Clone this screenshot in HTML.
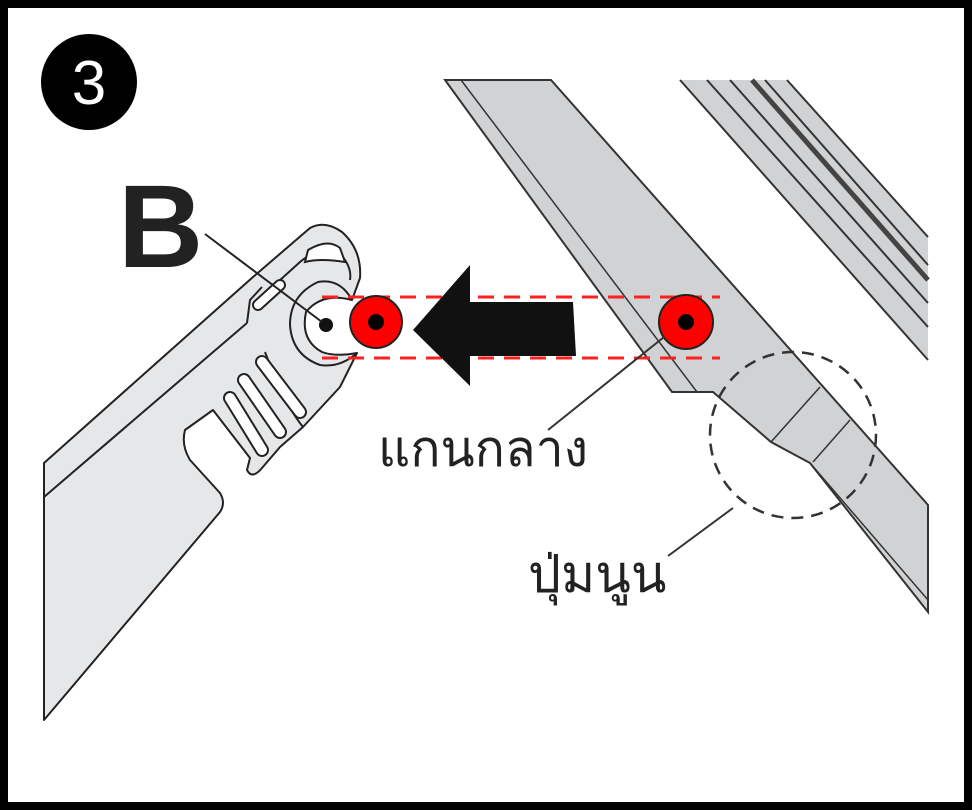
<!DOCTYPE html>
<html><head><meta charset="utf-8">
<style>
html,body{margin:0;padding:0;background:#fff;}
svg{display:block;}
</style></head>
<body>
<svg width="972" height="810" viewBox="0 0 972 810" xmlns="http://www.w3.org/2000/svg">
<rect x="0" y="0" width="972" height="810" fill="#fff"/>
<!-- upper right wiper -->
<polygon points="680,80 787,80 928,237 928,360" fill="#d1d2d4"/>
<g stroke="#333" stroke-width="2" fill="none">
<line x1="680" y1="80" x2="928" y2="360"/>
<line x1="707" y1="80" x2="928" y2="327"/>
<line x1="730" y1="80" x2="928" y2="303"/>
<line x1="787" y1="80" x2="928" y2="237"/>
</g>
<line x1="752" y1="80" x2="928" y2="280" stroke="#444" stroke-width="5"/>
<line x1="765" y1="80" x2="928" y2="265" stroke="#333" stroke-width="2"/>
<!-- big arm -->
<polygon points="445,80 551,80 928,505 928,612 810,463 771,442 713,392 672,392" fill="#d1d2d4" stroke="#333" stroke-width="2"/>
<g stroke="#333" stroke-width="1.5" fill="none">
<line x1="461" y1="80" x2="697" y2="392"/>
<line x1="771" y1="442" x2="820" y2="387"/>
<line x1="813" y1="462" x2="850" y2="420"/>
<line x1="810" y1="463" x2="928" y2="600"/>
</g>
<!-- left arm -->
<path d="M44,463 L253,277 L310,228 Q325,220 342,232 Q362,250 360,278 L352,300 Q322,292 306,312 Q300,340 322,352 Q335,357 357,353 L340,387 L303,427 L280,447 L262,468 Q252,480 247,470 L250,458 L213,410 L185,430 Q181,445 190,460 L220,493 Q226,503 220,512 L44,720 Z" fill="#e6e7e9" stroke="#222" stroke-width="2" stroke-linejoin="round"/>
<g stroke="#222" stroke-width="2" fill="none" stroke-linejoin="round">
<line x1="44" y1="497" x2="247" y2="323"/>
<path d="M247,323 L250,300 L262,287"/>
<path d="M352,300 Q340,278 318,282 Q290,295 290,325 Q292,355 320,365 Q340,368 357,353"/>
<path d="M258,300 L300,262 Q320,245 342,256 Q352,268 350,280"/>
<path d="M303,427 Q285,405 265,352"/>
</g>
<g stroke-linecap="round" fill="none">
<line x1="230" y1="398" x2="262" y2="450" stroke="#222" stroke-width="14"/>
<line x1="230" y1="398" x2="262" y2="450" stroke="#fff" stroke-width="10"/>
<line x1="244" y1="380" x2="280" y2="432" stroke="#222" stroke-width="14"/>
<line x1="244" y1="380" x2="280" y2="432" stroke="#fff" stroke-width="10"/>
<line x1="262" y1="362" x2="300" y2="412" stroke="#222" stroke-width="14"/>
<line x1="262" y1="362" x2="300" y2="412" stroke="#fff" stroke-width="10"/>
<line x1="258" y1="305" x2="280" y2="285" stroke="#222" stroke-width="12"/>
<line x1="258" y1="305" x2="280" y2="285" stroke="#fff" stroke-width="8"/>
<path d="M308,250 Q328,238 340,248 L345,262 Q320,258 305,262 Z" stroke="#222" stroke-width="2" fill="#fff"/>
</g>
<!-- dashed red lines -->
<g stroke="#ff2020" stroke-width="3" stroke-dasharray="16,10">
<line x1="322" y1="297" x2="720" y2="297"/>
<line x1="322" y1="358" x2="720" y2="358"/>
</g>
<!-- arrow -->
<polygon points="413,330 470,265 470,302 573,302 576,356 470,356 470,386" fill="#111"/>
<!-- red markers -->
<circle cx="376" cy="322" r="26" fill="#ff0000" stroke="#222" stroke-width="2"/>
<circle cx="376" cy="322" r="8" fill="#000"/>
<circle cx="686" cy="322" r="27" fill="#ff0000" stroke="#222" stroke-width="2"/>
<circle cx="686" cy="322" r="8" fill="#000"/>
<!-- B dot -->
<circle cx="326" cy="325" r="7" fill="#111"/>
<line x1="205" y1="234" x2="322" y2="322" stroke="#222" stroke-width="2"/>
<!-- leader lines -->
<line x1="548" y1="430" x2="664" y2="337" stroke="#333" stroke-width="2"/>
<line x1="668" y1="556" x2="733" y2="508" stroke="#333" stroke-width="2"/>
<!-- dashed circle -->
<circle cx="793" cy="435" r="83" fill="none" stroke="#333" stroke-width="2.5" stroke-dasharray="12,8"/>
<!-- labels -->
<text x="118" y="267" font-family="Liberation Sans, sans-serif" font-size="118" font-weight="bold" fill="#222">B</text>
<text x="378" y="466" font-family="Liberation Sans, 'Noto Sans CJK SC', sans-serif" font-size="50" fill="#222">แกนกลาง</text>
<text x="528" y="592" font-family="Liberation Sans, 'Noto Sans CJK SC', sans-serif" font-size="52" fill="#222">ปุ่มนูน</text>
<!-- step circle -->
<circle cx="89" cy="82" r="48" fill="#000"/>
<text x="89" y="104" text-anchor="middle" font-family="Liberation Sans, sans-serif" font-size="62" fill="#fff">3</text>
<!-- border -->
<rect x="4" y="4" width="964" height="802" fill="none" stroke="#000" stroke-width="8"/>
</svg>
</body></html>
